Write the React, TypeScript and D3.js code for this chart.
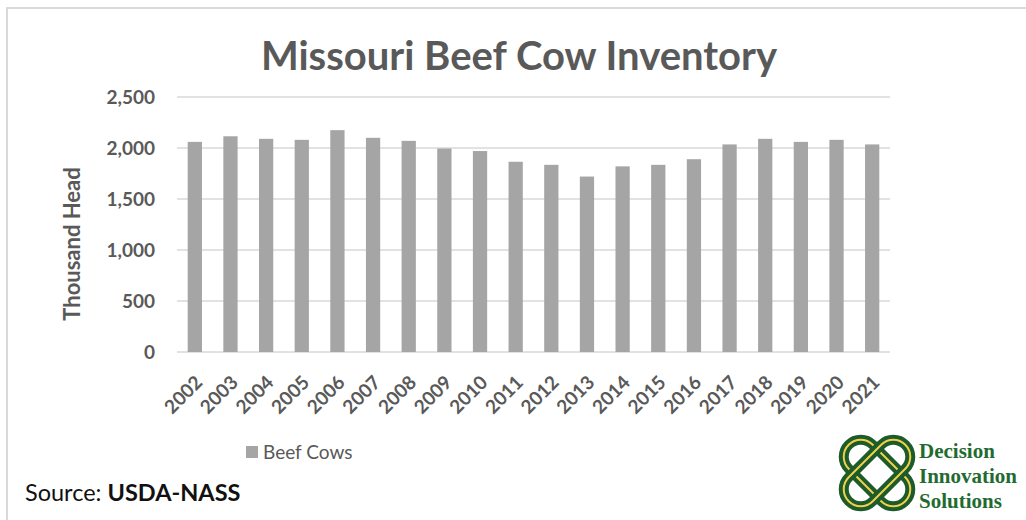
import React from 'react';
import * as d3 from 'd3';

const years = ['2002', '2003', '2004', '2005', '2006', '2007', '2008', '2009', '2010', '2011',
  '2012', '2013', '2014', '2015', '2016', '2017', '2018', '2019', '2020', '2021'];
const beefCows = [2060, 2115, 2090, 2080, 2175, 2100, 2070, 1995, 1970, 1865,
  1835, 1720, 1820, 1835, 1890, 2035, 2090, 2060, 2080, 2035];
const yTicks = [0, 500, 1000, 1500, 2000, 2500];

const W = 1026;
const H = 520;
const plot = { left: 177, right: 890, top: 97, bottom: 352 };
const gray = '#595959';
const font = 'Lato, "Open Sans", sans-serif';

function Logo({ x, y }: { x: number; y: number }) {
  // rough knot: two rounded loops crossing on the diagonals
  const loop = (angle: number) => (
    <g transform={`rotate(${angle})`}>
      <rect x={-40} y={-17} width={80} height={34} rx={17} fill="none" stroke="#1d5c2a" strokeWidth={10} />
      <rect x={-40} y={-17} width={80} height={34} rx={17} fill="none" stroke="#f0cf4a" strokeWidth={2} />
    </g>
  );
  return (
    <g transform={`translate(${x},${y})`}>
      {loop(45)}
      {loop(-45)}
    </g>
  );
}

export default function App() {
  const x = d3.scaleBand<string>()
    .domain(years)
    .range([plot.left, plot.right])
    .paddingInner(0.6)
    .paddingOuter(0.3);
  const y = d3.scaleLinear().domain([0, 2500]).range([plot.bottom, plot.top]);
  const fmt = d3.format(',');

  return (
    <div style={{ position: 'absolute', left: 0, top: 0 }}>
      <svg width={W} height={H} style={{ display: 'block', background: '#fff' }}>
        {/* chart frame */}
        <path d={`M7,${H} V8 H${W}`} fill="none" stroke="#d9d9d9" strokeWidth={2} />

        <text x={519} y={70} textAnchor="middle" fontFamily={font} fontWeight={700}
          fontSize={40} fill={gray}>Missouri Beef Cow Inventory</text>

        {/* gridlines */}
        {yTicks.map(t => (
          <g key={t}>
            <line x1={plot.left} x2={plot.right} y1={y(t)} y2={y(t)} stroke="#d9d9d9" strokeWidth={1.5} />
            <text x={155} y={y(t)} dy="0.35em" textAnchor="end" fontFamily={font}
              fontWeight={700} fontSize={19} fill={gray}>{fmt(t)}</text>
          </g>
        ))}

        {/* bars */}
        {years.map((yr, i) => (
          <rect key={yr} x={x(yr)} y={y(beefCows[i])} width={x.bandwidth()}
            height={y(0) - y(beefCows[i])} fill="#a5a5a5" />
        ))}

        {/* x labels */}
        {years.map(yr => {
          const cx = (x(yr) ?? 0) + x.bandwidth() / 2;
          return (
            <text key={yr} transform={`translate(${cx + 4},${plot.bottom + 27}) rotate(-45)`}
              textAnchor="end" dy="0.35em" fontFamily={font} fontWeight={700}
              fontSize={19} fill={gray}>{yr}</text>
          );
        })}

        <text transform={`translate(80,244) rotate(-90)`}
          textAnchor="middle" fontFamily={font} fontWeight={700} fontSize={22} fill={gray}>
          Thousand Head
        </text>

        {/* legend */}
        <rect x={246} y={446} width={12} height={12} fill="#a5a5a5" />
        <text x={263} y={459} fontFamily={font} fontSize={19} fill={gray}>Beef Cows</text>

        <text x={25} y={501} fontFamily={font} fontSize={23.5} fill="#111">
          Source: <tspan fontWeight={700}>USDA-NASS</tspan>
        </text>

        <Logo x={877} y={473} />
        <g fontFamily='"Liberation Serif", "DejaVu Serif", serif' fontWeight={700} fontSize={21} fill="#1f6b30">
          <text x={919} y={458}>Decision</text>
          <text x={919} y={483}>Innovation</text>
          <text x={919} y={508}>Solutions</text>
        </g>
      </svg>
    </div>
  );
}
